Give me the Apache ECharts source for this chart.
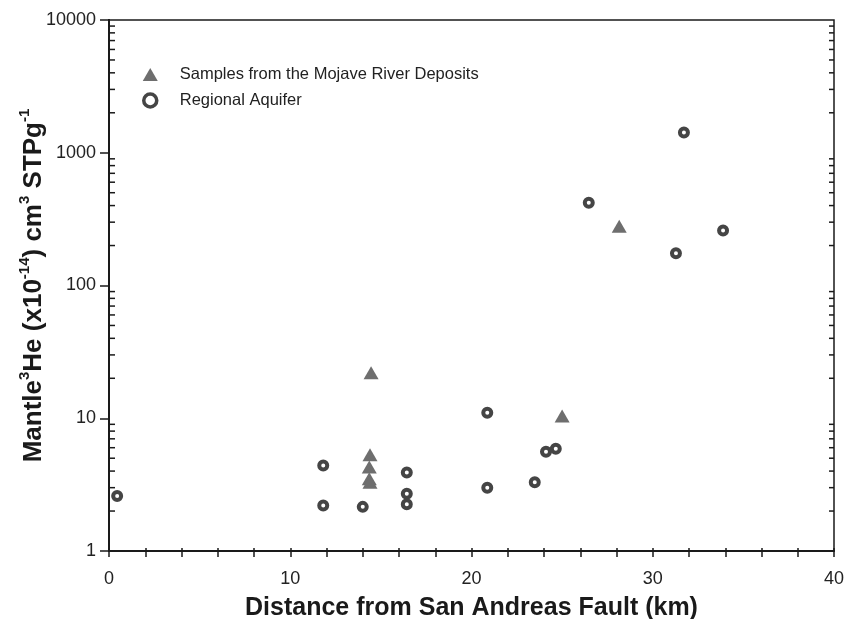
<!DOCTYPE html>
<html>
<head>
<meta charset="utf-8">
<script src="https://cdn.jsdelivr.net/npm/echarts@6/dist/echarts.min.js"></script>
<style>html,body{margin:0;padding:0;background:#fff}#c{width:845px;height:619px}</style>
</head>
<body>
<div id="c"></div>
<script>
// ---- data ----
const mojaveX = [14.46, 14.40, 14.36, 14.36, 14.40, 25.0, 28.15];
const mojaveY = [22.0, 5.3, 4.3, 3.5, 3.3, 10.4, 280];
const aquiferX = [0.45, 11.82, 11.82, 14.0, 16.43, 16.43, 16.43, 20.87, 20.87, 23.49, 24.11, 24.65, 26.47, 31.28, 31.72, 33.88];
const aquiferY = [2.6, 4.4, 2.2, 2.15, 3.9, 2.7, 2.25, 11.0, 3.0, 3.3, 5.6, 5.9, 420, 175, 1420, 260];
const seriesNames = ['Samples from the Mojave River Deposits', 'Regional Aquifer'];
const xTickLabels = [0, 10, 20, 30, 40];
const yTickLabels = [1, 10, 100, 1000, 10000];

// minor tick positions on the log axis (2..9 of each decade)
const minorY = [];
for (let d = 1; d < 10000; d *= 10) for (let k = 2; k <= 9; k++) minorY.push(d * k);

const axisColor = '#1a1a1a';
const triColor = '#6e6e6e';
const ringColor = '#454545';
const font = '"Liberation Sans", Arial, Helvetica, sans-serif';

const chart = echarts.init(document.getElementById('c'), null, {renderer: 'canvas'});
chart.setOption({
  animation: false,
  backgroundColor: '#fff',
  grid: {left: 109, right: 11, top: 20, bottom: 68, show: true, borderColor: axisColor, borderWidth: 1.5,
    backgroundColor: 'transparent', containLabel: false, outerBoundsMode: 'none'},
  legend: {
    data: [
      {name: seriesNames[0], icon: 'triangle', itemStyle: {color: triColor, borderWidth: 0}},
      {name: seriesNames[1], icon: 'circle', itemStyle: {color: '#ffffff', borderColor: ringColor, borderWidth: 3.5}}
    ],
    orient: 'vertical',
    left: 137, top: 61,
    itemWidth: 15, itemHeight: 13, itemGap: 9,
    textStyle: {fontFamily: font, fontSize: 16.5, color: '#222', padding: [0, 0, 0, 17]}
  },
  xAxis: [{
    type: 'value', min: 0, max: 40, interval: 2, position: 'bottom',
    name: 'Distance from San Andreas Fault (km)', nameLocation: 'middle', nameGap: 45, nameMoveOverlap: false,
    nameTextStyle: {fontFamily: font, fontSize: 25, fontWeight: 'bold', color: '#1a1a1a'},
    axisLine: {show: true, lineStyle: {color: axisColor, width: 2}},
    axisTick: {show: true, inside: false, length: 6, lineStyle: {color: axisColor, width: 1.5}},
    axisLabel: {margin: 19, fontFamily: font, fontSize: 18, color: '#222',
      formatter: v => (xTickLabels.indexOf(v) >= 0 ? String(v) : '')},
    splitLine: {show: false}
  }, {
    type: 'value', min: 0, max: 40, interval: 2, position: 'bottom',
    axisLine: {show: false},
    axisTick: {show: true, inside: true, length: 3, lineStyle: {color: axisColor, width: 1.5}},
    axisLabel: {show: false}, splitLine: {show: false}
  }],
  yAxis: [{
    type: 'log', logBase: 10, min: 1, max: 10000, position: 'left',
    name: '{n|Mantle}{s|3}{n|He (x10}{s|-14}{n|) cm}{s|3}{n| STPg}{s|-1}',
    nameLocation: 'middle', nameGap: 62, nameRotate: 90, nameMoveOverlap: false,
    nameTextStyle: {
      rich: {
        n: {fontFamily: font, fontSize: 26, fontWeight: 'bold', color: '#1a1a1a', lineHeight: 30, verticalAlign: 'bottom'},
        s: {fontFamily: font, fontSize: 15, fontWeight: 'bold', color: '#1a1a1a', lineHeight: 30, verticalAlign: 'top'}
      }
    },
    axisLine: {show: true, lineStyle: {color: axisColor, width: 2}},
    axisTick: {show: true, inside: false, length: 9, lineStyle: {color: axisColor, width: 1.5}},
    axisLabel: {margin: 13, fontFamily: font, fontSize: 18, color: '#222',
      formatter: v => (yTickLabels.indexOf(Math.round(v)) >= 0 ? String(Math.round(v)) : '')},
    splitLine: {show: false}
  }, {
    type: 'log', logBase: 10, min: 1, max: 10000, position: 'right',
    axisLine: {show: true, lineStyle: {color: axisColor, width: 2}},
    axisTick: {show: true, inside: true, length: 6, lineStyle: {color: axisColor, width: 1.5}},
    axisLabel: {show: false}, splitLine: {show: false}
  }],
  series: [{
    name: seriesNames[0], type: 'scatter', xAxisIndex: 0, yAxisIndex: 0,
    symbol: 'triangle', symbolSize: [15, 13],
    itemStyle: {color: triColor, opacity: 1},
    data: mojaveX.map((x, i) => [x, mojaveY[i]]), z: 3
  }, {
    name: seriesNames[1], type: 'scatter', xAxisIndex: 0, yAxisIndex: 0,
    symbol: 'circle', symbolSize: 8,
    itemStyle: {color: '#ffffff', borderColor: ringColor, borderWidth: 4, opacity: 1},
    data: aquiferX.map((x, i) => [x, aquiferY[i]]), z: 4
  }, {
    name: 'minorTicks', type: 'custom', xAxisIndex: 0, yAxisIndex: 0, silent: true,
    clip: false, z: 5,
    data: minorY.map(v => [0, v]),
    encode: {x: 0, y: 1},
    renderItem: function (params, api) {
      const cs = params.coordSys;
      const y = api.coord([0, api.value(1)])[1];
      const st = {stroke: axisColor, lineWidth: 1.5};
      return {type: 'group', children: [
        {type: 'line', shape: {x1: cs.x, y1: y, x2: cs.x + 6, y2: y}, style: st},
        {type: 'line', shape: {x1: cs.x + cs.width - 5, y1: y, x2: cs.x + cs.width, y2: y}, style: st}
      ]};
    }
  }]
});
</script>
</body>
</html>
